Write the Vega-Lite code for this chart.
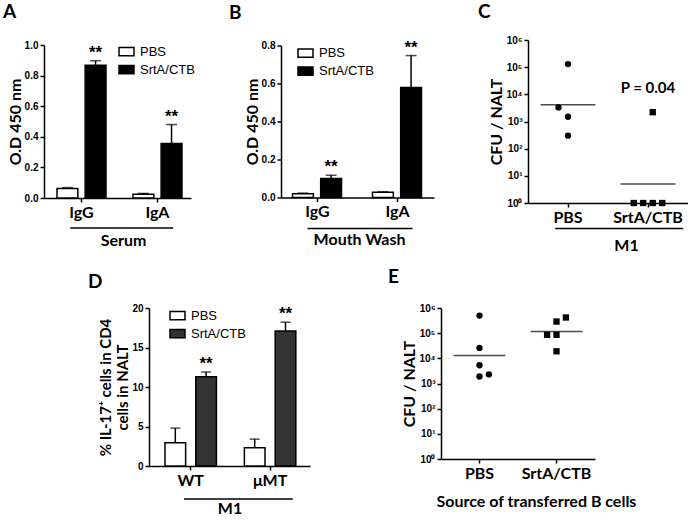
{
  "$schema": "https://vega.github.io/schema/vega-lite/v6.json",
  "background": "white",
  "padding": {"left": 3, "top": 3, "right": 0, "bottom": 0},
  "datasets": {
    "A": [
      {"antibody": "IgG", "group": "PBS", "mean": 0.062, "upper": 0.068, "sig": ""},
      {"antibody": "IgG", "group": "SrtA/CTB", "mean": 0.867, "upper": 0.897, "sig": "**"},
      {"antibody": "IgA", "group": "PBS", "mean": 0.025, "upper": 0.03, "sig": ""},
      {"antibody": "IgA", "group": "SrtA/CTB", "mean": 0.357, "upper": 0.48, "sig": "**"}
    ],
    "B": [
      {"antibody": "IgG", "group": "PBS", "mean": 0.02, "upper": 0.023, "sig": ""},
      {"antibody": "IgG", "group": "SrtA/CTB", "mean": 0.1, "upper": 0.117, "sig": "**"},
      {"antibody": "IgA", "group": "PBS", "mean": 0.027, "upper": 0.03, "sig": ""},
      {"antibody": "IgA", "group": "SrtA/CTB", "mean": 0.579, "upper": 0.747, "sig": "**"}
    ],
    "Cpts": [
      {"g": "PBS", "v": 130000, "j": 0},
      {"g": "PBS", "v": 3300, "j": -1},
      {"g": "PBS", "v": 1500, "j": 0},
      {"g": "PBS", "v": 300, "j": 0},
      {"g": "SrtA/CTB", "v": 2200, "j": 0.5},
      {"g": "SrtA/CTB", "v": 1, "j": -1.5},
      {"g": "SrtA/CTB", "v": 1, "j": -0.5},
      {"g": "SrtA/CTB", "v": 1, "j": 0.5},
      {"g": "SrtA/CTB", "v": 1, "j": 1.5}
    ],
    "Cmed": [
      {"g": "PBS", "med": 4100},
      {"g": "SrtA/CTB", "med": 5}
    ],
    "Cann": [
      {"g": "SrtA/CTB", "v": 16600, "label": "P = 0.04"}
    ],
    "D": [
      {"strain": "WT", "group": "PBS", "mean": 2.95, "upper": 4.8, "sig": ""},
      {"strain": "WT", "group": "SrtA/CTB", "mean": 11.3, "upper": 11.9, "sig": "**"},
      {"strain": "μMT", "group": "PBS", "mean": 2.3, "upper": 3.4, "sig": ""},
      {"strain": "μMT", "group": "SrtA/CTB", "mean": 17.1, "upper": 18.2, "sig": "**"}
    ],
    "Epts": [
      {"g": "PBS", "v": 500000, "j": 0},
      {"g": "PBS", "v": 26000, "j": 0},
      {"g": "PBS", "v": 5300, "j": 0},
      {"g": "PBS", "v": 1900, "j": 0},
      {"g": "PBS", "v": 2300, "j": 1},
      {"g": "SrtA/CTB", "v": 420000, "j": 1},
      {"g": "SrtA/CTB", "v": 290000, "j": 0},
      {"g": "SrtA/CTB", "v": 86000, "j": -1},
      {"g": "SrtA/CTB", "v": 86000, "j": 0},
      {"g": "SrtA/CTB", "v": 19000, "j": 0}
    ],
    "Emed": [
      {"g": "PBS", "med": 13000},
      {"g": "SrtA/CTB", "med": 117000}
    ]
  },
  "config": {
    "view": {"stroke": null},
    "font": "Lato",
    "axis": {"domainColor": "black", "domainWidth": 1.5, "tickColor": "black", "tickWidth": 1.5, "tickSize": 4, "labelColor": "black", "titleColor": "black", "grid": false, "labelOverlap": false},
    "axisX": {"labelFont": "Lato", "labelFontWeight": "bold", "labelFontSize": 16, "labelAngle": 0, "labelPadding": 2, "titleFont": "Lato", "titleFontWeight": "bold", "titleFontSize": 16, "titlePadding": 12},
    "axisY": {"labelFont": "Liberation Sans", "labelFontWeight": "bold", "labelFontSize": 10, "labelPadding": 2, "titleFont": "Lato", "titleFontWeight": "bold", "titleFontSize": 16, "titlePadding": 1, "labelOverlap": false},
    "legend": {"labelFont": "Liberation Sans", "labelFontSize": 13, "labelColor": "black", "symbolType": "M-1,-0.55H1V0.55H-1Z", "symbolSize": 225, "symbolStrokeColor": "black", "symbolStrokeWidth": 1.5, "rowPadding": 2, "labelOffset": 5, "padding": 0},
    "title": {"anchor": "start", "frame": "group", "font": "Lato", "fontSize": 19, "fontWeight": "bold", "baseline": "alphabetic", "color": "black"}
  },
  "spacing": 15,
  "resolve": {"scale": {"fill": "independent", "shape": "independent"}, "legend": {"fill": "independent", "shape": "independent"}},
  "vconcat": [
    {
      "spacing": 44,
      "center": true,
      "resolve": {"scale": {"fill": "independent", "shape": "independent"}, "legend": {"fill": "independent", "shape": "independent"}},
      "hconcat": [
        {
          "spacing": 34,
          "center": true,
          "resolve": {"scale": {"fill": "independent"}, "legend": {"fill": "independent"}},
          "hconcat": [
            {
              "width": 147,
              "height": 153,
              "title": {"text": "A", "dx": -41, "offset": 18},
              "data": {"name": "A"},
              "layer": [
                {
                  "mark": {"type": "bar", "stroke": "black", "strokeWidth": 1.5},
                  "encoding": {
                    "x": {"field": "antibody", "type": "nominal", "sort": ["IgG", "IgA"], "scale": {"paddingInner": 0.355, "paddingOuter": 0.145, "align": 0.59}, "axis": {"title": "Serum", "titleX": 79}},
                    "xOffset": {"field": "group", "type": "nominal", "sort": ["PBS", "SrtA/CTB"], "scale": {"paddingInner": 0.26, "paddingOuter": 0}},
                    "y": {"field": "mean", "type": "quantitative", "scale": {"domain": [0, 1]}, "axis": {"values": [0, 0.2, 0.4, 0.6, 0.8, 1], "tickCount": 6, "labelOverlap": false, "format": ".1f", "title": "O.D 450 nm"}},
                    "fill": {"field": "group", "type": "nominal", "scale": {"domain": ["PBS", "SrtA/CTB"], "range": ["white", "black"]}, "legend": {"title": null, "orient": "none", "legendX": 74, "legendY": -2, "symbolType": "M-1,-0.55H1V0.55H-1Z"}}
                  }
                },
                {
                  "mark": {"type": "rule", "strokeWidth": 1.5, "color": "black"},
                  "encoding": {
                    "x": {"field": "antibody", "type": "nominal", "sort": ["IgG", "IgA"], "title": "Serum"},
                    "xOffset": {"field": "group", "type": "nominal", "sort": ["PBS", "SrtA/CTB"]},
                    "y": {"field": "mean", "type": "quantitative", "axis": {"values": [0, 0.2, 0.4, 0.6, 0.8, 1], "tickCount": 6, "labelOverlap": false, "format": ".1f", "title": "O.D 450 nm"}},
                    "y2": {"field": "upper"}
                  }
                },
                {
                  "mark": {"type": "tick", "orient": "horizontal", "size": 11, "thickness": 1.5, "color": "black"},
                  "encoding": {
                    "x": {"field": "antibody", "type": "nominal", "sort": ["IgG", "IgA"], "title": "Serum"},
                    "xOffset": {"field": "group", "type": "nominal", "sort": ["PBS", "SrtA/CTB"]},
                    "y": {"field": "upper", "type": "quantitative", "axis": {"values": [0, 0.2, 0.4, 0.6, 0.8, 1], "tickCount": 6, "labelOverlap": false, "format": ".1f", "title": "O.D 450 nm"}}
                  }
                },
                {
                  "mark": {"type": "text", "font": "Liberation Sans", "fontSize": 17, "fontWeight": "bold", "baseline": "alphabetic", "dy": -3, "color": "black"},
                  "encoding": {
                    "x": {"field": "antibody", "type": "nominal", "sort": ["IgG", "IgA"], "title": "Serum"},
                    "xOffset": {"field": "group", "type": "nominal", "sort": ["PBS", "SrtA/CTB"]},
                    "y": {"field": "upper", "type": "quantitative", "axis": {"values": [0, 0.2, 0.4, 0.6, 0.8, 1], "tickCount": 6, "labelOverlap": false, "format": ".1f", "title": "O.D 450 nm"}},
                    "text": {"field": "sig"}
                  }
                },
                {
                  "data": {"values": [{"span": "Serum"}]},
                  "mark": {"type": "rule", "strokeWidth": 1.5, "color": "black"},
                  "encoding": {
                    "x": {"datum": "IgG", "bandPosition": 0.27},
                    "x2": {"datum": "IgA", "bandPosition": 0.82},
                    "y": {"datum": -0.196}
                  }
                }
              ]
            },
            {
              "width": 153,
              "height": 152,
              "title": {"text": "B", "dx": -52, "offset": 16},
              "data": {"name": "B"},
              "layer": [
                {
                  "mark": {"type": "bar", "stroke": "black", "strokeWidth": 1.5},
                  "encoding": {
                    "x": {"field": "antibody", "type": "nominal", "sort": ["IgG", "IgA"], "scale": {"paddingInner": 0.375, "paddingOuter": 0.144, "align": 0.5}, "axis": {"title": "Mouth Wash", "titleX": 78}},
                    "xOffset": {"field": "group", "type": "nominal", "sort": ["PBS", "SrtA/CTB"], "scale": {"paddingInner": 0.26, "paddingOuter": 0}},
                    "y": {"field": "mean", "type": "quantitative", "scale": {"domain": [0, 0.8]}, "axis": {"values": [0, 0.2, 0.4, 0.6, 0.8], "tickCount": 5, "labelOverlap": false, "format": ".1f", "title": "O.D 450 nm"}},
                    "fill": {"field": "group", "type": "nominal", "scale": {"domain": ["PBS", "SrtA/CTB"], "range": ["white", "black"]}, "legend": {"title": null, "orient": "none", "legendX": 16, "legendY": -1, "symbolType": "M-1,-0.55H1V0.55H-1Z"}}
                  }
                },
                {
                  "mark": {"type": "rule", "strokeWidth": 1.5, "color": "black"},
                  "encoding": {
                    "x": {"field": "antibody", "type": "nominal", "sort": ["IgG", "IgA"], "title": "Mouth Wash"},
                    "xOffset": {"field": "group", "type": "nominal", "sort": ["PBS", "SrtA/CTB"]},
                    "y": {"field": "mean", "type": "quantitative", "axis": {"values": [0, 0.2, 0.4, 0.6, 0.8], "tickCount": 5, "labelOverlap": false, "format": ".1f", "title": "O.D 450 nm"}},
                    "y2": {"field": "upper"}
                  }
                },
                {
                  "mark": {"type": "tick", "orient": "horizontal", "size": 11, "thickness": 1.5, "color": "black"},
                  "encoding": {
                    "x": {"field": "antibody", "type": "nominal", "sort": ["IgG", "IgA"], "title": "Mouth Wash"},
                    "xOffset": {"field": "group", "type": "nominal", "sort": ["PBS", "SrtA/CTB"]},
                    "y": {"field": "upper", "type": "quantitative", "axis": {"values": [0, 0.2, 0.4, 0.6, 0.8], "tickCount": 5, "labelOverlap": false, "format": ".1f", "title": "O.D 450 nm"}}
                  }
                },
                {
                  "mark": {"type": "text", "font": "Liberation Sans", "fontSize": 17, "fontWeight": "bold", "baseline": "alphabetic", "dy": -3, "color": "black"},
                  "encoding": {
                    "x": {"field": "antibody", "type": "nominal", "sort": ["IgG", "IgA"], "title": "Mouth Wash"},
                    "xOffset": {"field": "group", "type": "nominal", "sort": ["PBS", "SrtA/CTB"]},
                    "y": {"field": "upper", "type": "quantitative", "axis": {"values": [0, 0.2, 0.4, 0.6, 0.8], "tickCount": 5, "labelOverlap": false, "format": ".1f", "title": "O.D 450 nm"}},
                    "text": {"field": "sig"}
                  }
                },
                {
                  "data": {"values": [{"span": "Mouth Wash"}]},
                  "mark": {"type": "rule", "strokeWidth": 1.5, "color": "black"},
                  "encoding": {
                    "x": {"datum": "IgG", "bandPosition": 0.3},
                    "x2": {"datum": "IgA", "bandPosition": 0.8},
                    "y": {"datum": -0.163}
                  }
                }
              ]
            }
          ]
        },
        {
          "width": 160,
          "height": 163,
          "title": {"text": "C", "dx": -50, "offset": 13},
          "layer": [
            {
              "data": {"name": "Cpts"},
              "mark": {"type": "point", "filled": true, "opacity": 1, "color": "black", "size": 40},
              "encoding": {
                "x": {"field": "g", "type": "nominal", "sort": ["PBS", "SrtA/CTB"], "scale": {"paddingInner": 0, "paddingOuter": 0}, "axis": {"title": "M1", "titleX": 98}},
                "xOffset": {"field": "j", "type": "quantitative", "scale": {"domain": [-4.2, 4.2]}},
                "y": {"field": "v", "type": "quantitative", "scale": {"type": "log", "domain": [1, 1000000]}, "axis": {"values": [1, 10, 100, 1000, 10000, 100000, 1000000], "labelExpr": "'10' + ['⁰','¹','²','³','⁴','⁵','⁶'][round(log(datum.value)/LN10)]", "title": "CFU / NALT"}},
                "shape": {"field": "g", "type": "nominal", "scale": {"domain": ["PBS", "SrtA/CTB"], "range": ["circle", "square"]}, "legend": null}
              }
            },
            {
              "data": {"name": "Cmed"},
              "mark": {"type": "tick", "orient": "horizontal", "size": 55, "thickness": 1.5, "color": "black"},
              "encoding": {
                "x": {"field": "g", "type": "nominal", "sort": ["PBS", "SrtA/CTB"], "title": "M1"},
                "y": {"field": "med", "type": "quantitative", "title": "CFU / NALT"}
              }
            },
            {
              "data": {"name": "Cann"},
              "mark": {"type": "text", "font": "Lato", "fontSize": 15, "fontWeight": "bold", "color": "black"},
              "encoding": {
                "x": {"field": "g", "type": "nominal", "sort": ["PBS", "SrtA/CTB"], "title": "M1"},
                "y": {"field": "v", "type": "quantitative", "title": "CFU / NALT"},
                "text": {"field": "label"}
              }
            },
            {
              "data": {"values": [{"span": "M1"}]},
              "mark": {"type": "rule", "strokeWidth": 1.5, "color": "black"},
              "encoding": {
                "x": {"datum": "PBS", "bandPosition": 0.34},
                "x2": {"datum": "SrtA/CTB", "bandPosition": 0.94},
                "y": {"datum": 0.115}
              }
            }
          ]
        }
      ]
    },
    {
      "spacing": 43,
      "resolve": {"scale": {"fill": "independent", "shape": "independent"}, "legend": {"fill": "independent", "shape": "independent"}},
      "hconcat": [
        {
          "width": 1,
          "height": 1,
          "data": {"values": [{}]},
          "mark": {"type": "rect", "opacity": 0},
          "encoding": {}
        },
        {
          "concat": [
            {
              "width": 161,
              "height": 158,
              "title": {"text": "D", "dx": -61, "offset": 11},
              "data": {"name": "D"},
              "layer": [
                {
                  "mark": {"type": "bar", "stroke": "black", "strokeWidth": 1.5},
                  "encoding": {
                    "x": {"field": "strain", "type": "nominal", "sort": ["WT", "μMT"], "scale": {"paddingInner": 0.352, "paddingOuter": 0.19, "align": 0.53}, "axis": {"title": "M1"}},
                    "xOffset": {"field": "group", "type": "nominal", "sort": ["PBS", "SrtA/CTB"], "scale": {"paddingInner": 0.33, "paddingOuter": 0}},
                    "y": {"field": "mean", "type": "quantitative", "scale": {"domain": [0, 20]}, "axis": {"values": [0, 5, 10, 15, 20], "tickCount": 5, "labelOverlap": false, "title": ["% IL-17⁺ cells in CD4", "cells in NALT"], "titleFontSize": 15}},
                    "fill": {"field": "group", "type": "nominal", "scale": {"domain": ["PBS", "SrtA/CTB"], "range": ["white", "#333333"]}, "legend": {"title": null, "orient": "none", "legendX": 20, "legendY": -1, "symbolType": "M-1,-0.55H1V0.55H-1Z"}}
                  }
                },
                {
                  "mark": {"type": "rule", "strokeWidth": 1.5, "color": "black"},
                  "encoding": {
                    "x": {"field": "strain", "type": "nominal", "sort": ["WT", "μMT"], "title": "M1"},
                    "xOffset": {"field": "group", "type": "nominal", "sort": ["PBS", "SrtA/CTB"]},
                    "y": {"field": "mean", "type": "quantitative", "axis": {"values": [0, 5, 10, 15, 20], "tickCount": 5, "labelOverlap": false, "title": ["% IL-17⁺ cells in CD4", "cells in NALT"], "titleFontSize": 15}},
                    "y2": {"field": "upper"}
                  }
                },
                {
                  "mark": {"type": "tick", "orient": "horizontal", "size": 10, "thickness": 1.5, "color": "black"},
                  "encoding": {
                    "x": {"field": "strain", "type": "nominal", "sort": ["WT", "μMT"], "title": "M1"},
                    "xOffset": {"field": "group", "type": "nominal", "sort": ["PBS", "SrtA/CTB"]},
                    "y": {"field": "upper", "type": "quantitative", "axis": {"values": [0, 5, 10, 15, 20], "tickCount": 5, "labelOverlap": false, "title": ["% IL-17⁺ cells in CD4", "cells in NALT"], "titleFontSize": 15}}
                  }
                },
                {
                  "mark": {"type": "text", "font": "Liberation Sans", "fontSize": 17, "fontWeight": "bold", "baseline": "alphabetic", "dy": -3, "color": "black"},
                  "encoding": {
                    "x": {"field": "strain", "type": "nominal", "sort": ["WT", "μMT"], "title": "M1"},
                    "xOffset": {"field": "group", "type": "nominal", "sort": ["PBS", "SrtA/CTB"]},
                    "y": {"field": "upper", "type": "quantitative", "axis": {"values": [0, 5, 10, 15, 20], "tickCount": 5, "labelOverlap": false, "title": ["% IL-17⁺ cells in CD4", "cells in NALT"], "titleFontSize": 15}},
                    "text": {"field": "sig"}
                  }
                },
                {
                  "data": {"values": [{"span": "M1"}]},
                  "mark": {"type": "rule", "strokeWidth": 1.5, "color": "black"},
                  "encoding": {
                    "x": {"datum": "WT", "bandPosition": 0.37},
                    "x2": {"datum": "μMT", "bandPosition": 0.94},
                    "y": {"datum": -4.18}
                  }
                }
              ]
            },
            {
              "width": 154,
              "height": 151,
              "title": {"text": "E", "dx": -53, "offset": 16},
              "layer": [
                {
                  "data": {"name": "Epts"},
                  "mark": {"type": "point", "filled": true, "opacity": 1, "color": "black", "size": 40},
                  "encoding": {
                    "x": {"field": "g", "type": "nominal", "sort": ["PBS", "SrtA/CTB"], "scale": {"paddingInner": 0, "paddingOuter": 0}, "axis": {"title": "Source of transferred  B cells", "titleX": 95}},
                    "xOffset": {"field": "j", "type": "quantitative", "scale": {"domain": [-4.1, 4.1]}},
                    "y": {"field": "v", "type": "quantitative", "scale": {"type": "log", "domain": [1, 1000000]}, "axis": {"values": [1, 10, 100, 1000, 10000, 100000, 1000000], "labelExpr": "'10' + ['⁰','¹','²','³','⁴','⁵','⁶'][round(log(datum.value)/LN10)]", "title": "CFU / NALT"}},
                    "shape": {"field": "g", "type": "nominal", "scale": {"domain": ["PBS", "SrtA/CTB"], "range": ["circle", "square"]}, "legend": null}
                  }
                },
                {
                  "data": {"name": "Emed"},
                  "mark": {"type": "tick", "orient": "horizontal", "size": 52, "thickness": 1.5, "color": "black"},
                  "encoding": {
                    "x": {"field": "g", "type": "nominal", "sort": ["PBS", "SrtA/CTB"], "title": "Source of transferred  B cells"},
                    "y": {"field": "med", "type": "quantitative", "title": "CFU / NALT"}
                  }
                }
              ]
            }
          ],
          "columns": 2,
          "align": "none",
          "spacing": 78,
          "resolve": {"scale": {"fill": "independent", "shape": "independent"}, "legend": {"fill": "independent", "shape": "independent"}}
        }
      ]
    }
  ]
}
